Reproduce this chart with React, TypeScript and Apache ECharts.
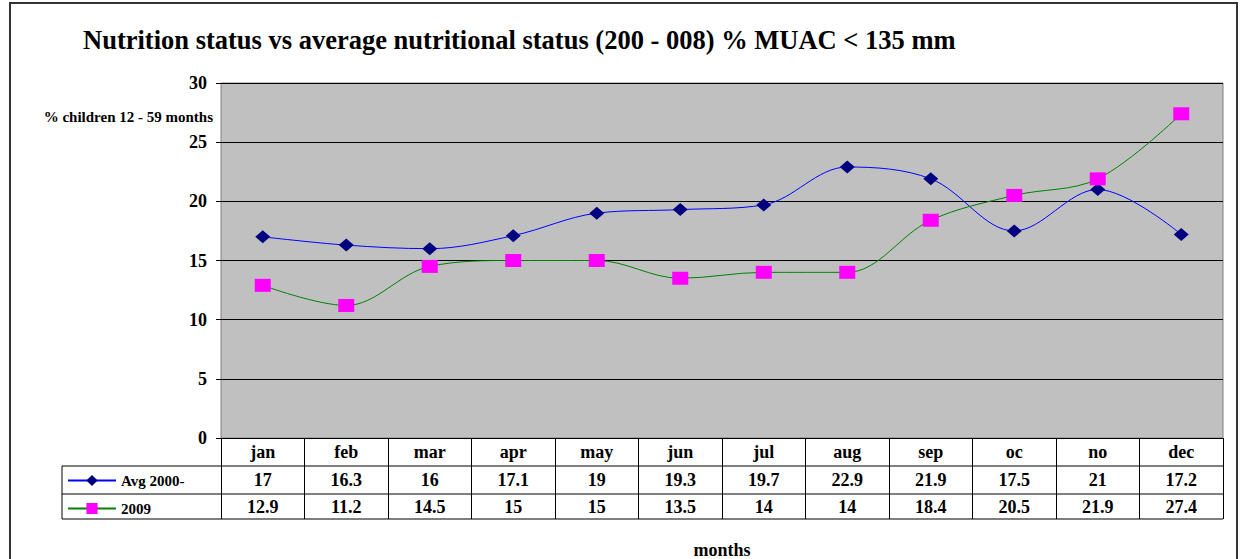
import React, { useEffect, useRef } from "react";
import * as echarts from "echarts";

const months = ["jan", "feb", "mar", "apr", "may", "jun", "jul", "aug", "sep", "oc", "no", "dec"];
const avgLabel = "Avg 2000-";
const avgValues = [17, 16.3, 16, 17.1, 19, 19.3, 19.7, 22.9, 21.9, 17.5, 21, 17.2];
const y2009Label = "2009";
const y2009Values = [12.9, 11.2, 14.5, 15, 15, 13.5, 14, 14, 18.4, 20.5, 21.9, 27.4];
const titleText = "Nutrition status vs average nutritional status (200 - 008) % MUAC < 135 mm";
const yAxisTitle = "% children 12 - 59 months";
const xAxisTitle = "months";

const FONT = "'Liberation Serif', 'Times New Roman', serif";

export default function App() {
  const ref = useRef<HTMLDivElement>(null);
  useEffect(() => {
    document.body.style.margin = "0";
    const chart = echarts.init(ref.current!, null, { renderer: "svg" });
    const gridL = 221, gridR = 1223, gridT = 83, gridB = 438;
    const option = {
      animation: false,
      backgroundColor: "#ffffff",
      title: {
        text: titleText,
        left: 78,
        top: 21,
        textStyle: { fontFamily: FONT, fontWeight: "bold", fontSize: 26.5, color: "#000" },
      },
      legend: {
        orient: "vertical",
        left: 67,
        top: 473,
        padding: 0,
        itemWidth: 48,
        itemHeight: 14,
        itemGap: 13,
        data: [avgLabel, y2009Label],
        textStyle: { fontFamily: FONT, fontWeight: "bold", fontSize: 15, color: "#000", lineHeight: 14 },
        selectedMode: false,
      },
      grid: {
        left: gridL,
        right: 1245 - gridR,
        top: gridT,
        bottom: 559 - gridB,
        outerBoundsMode: "none",
        containLabel: false,
        show: true,
        backgroundColor: "#C0C0C0",
        borderColor: "#808080",
        borderWidth: 1,
      },
      xAxis: {
        type: "category",
        data: months,
        boundaryGap: true,
        name: xAxisTitle,
        nameLocation: "middle",
        nameGap: 104,
        nameTextStyle: { fontFamily: FONT, fontWeight: "bold", fontSize: 18, color: "#000", lineHeight: 16 },
        axisLine: { show: true, lineStyle: { color: "#000", width: 1 } },
        axisTick: { show: true, length: 81, alignWithLabel: false, lineStyle: { color: "#000", width: 1 } },
        axisLabel: {
          margin: 0,
          interval: 0,
          formatter: (v: string, i: number) => `{c|${v}}\n{a|${avgValues[i]}}\n{b|${y2009Values[i]}}`,
          rich: {
            c: { fontFamily: FONT, fontWeight: "bold", fontSize: 18, lineHeight: 28, color: "#000" },
            a: { fontFamily: FONT, fontWeight: "bold", fontSize: 18, lineHeight: 28, color: "#000" },
            b: { fontFamily: FONT, fontWeight: "bold", fontSize: 18, lineHeight: 25, color: "#000" },
          },
        },
      },
      yAxis: {
        type: "value",
        min: 0,
        max: 30,
        interval: 5,
        axisLine: { show: false },
        axisTick: { show: true, length: 5, lineStyle: { color: "#000" } },
        axisLabel: { fontFamily: FONT, fontWeight: "bold", fontSize: 18, color: "#000", margin: 14 },
        splitLine: { show: true, lineStyle: { color: "#000", width: 1 } },
      },
      graphic: [
        {
          type: "rect",
          shape: { x: 10, y: 3, width: 1227, height: 600 },
          style: { fill: "none", stroke: "#333", lineWidth: 2 },
          z: 100,
        },
        {
          type: "text",
          x: 213,
          y: 117,
          style: {
            text: yAxisTitle,
            align: "right",
            verticalAlign: "middle",
            font: `bold 15px ${FONT}`,
            fill: "#000",
          },
        },
        { type: "line", shape: { x1: 62, y1: 466, x2: gridR, y2: 466 }, style: { stroke: "#000", lineWidth: 1 } },
        { type: "line", shape: { x1: 62, y1: 494, x2: gridR, y2: 494 }, style: { stroke: "#000", lineWidth: 1 } },
        { type: "line", shape: { x1: 62, y1: 519, x2: gridR, y2: 519 }, style: { stroke: "#000", lineWidth: 1 } },
        { type: "line", shape: { x1: 62, y1: 466, x2: 62, y2: 519 }, style: { stroke: "#000", lineWidth: 1 } },
      ],
      series: [
        {
          name: avgLabel,
          type: "line",
          data: avgValues,
          smooth: 0.35,
          symbol: "diamond",
          symbolSize: [15, 13],
          itemStyle: { color: "#000080" },
          lineStyle: { color: "#0000FF", width: 1 },
          z: 3,
        },
        {
          name: y2009Label,
          type: "line",
          data: y2009Values,
          smooth: 0.35,
          symbol: "rect",
          symbolSize: [16, 13],
          itemStyle: { color: "#FF00FF" },
          lineStyle: { color: "#008000", width: 1 },
          z: 4,
        },
      ],
    };
    chart.setOption(option as any);
    return () => chart.dispose();
  }, []);
  return <div ref={ref} style={{ position: "absolute", left: 0, top: 0, width: 1245, height: 559 }} />;
}
